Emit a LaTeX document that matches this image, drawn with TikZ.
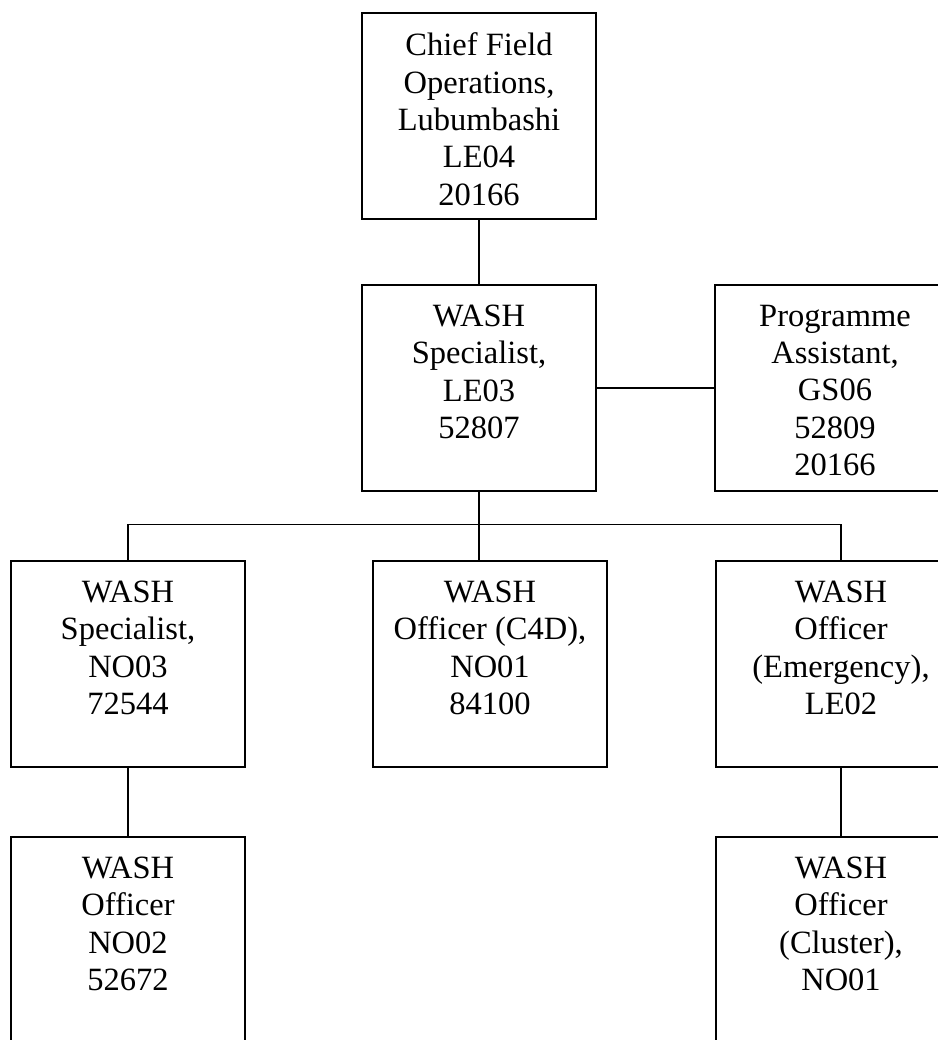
\documentclass[tikz,border=0pt]{standalone}
\usepackage{fontspec}
\setmainfont{Liberation Serif}
\usetikzlibrary{positioning}
\tikzset{post/.style={draw,line width=0.9pt,anchor=north,inner xsep=0pt,inner ysep=0.4cm,font=\fontsize{18.5}{21.3}\selectfont},
	link/.style={line width=0.9pt}}
\newcommand{\posttext}[3]{\parbox[t][#1][t]{#2}{\centering #3}}

\begin{document}
\begin{tikzpicture}[x=0.02cm,y=-0.02cm]
			\useasboundingbox (0,0) rectangle (937,1040);
			\def\h{3.32cm}
			\def\hlow{3.9cm}
			\def\w{4.68cm}
			% top of the chart
			\node[post] (chief) at (479,12) {\posttext{\h}{\w}{Chief Field\\Operations,\\Lubumbashi\\LE04\\20166}};
			\node[post] (spec) at (479,284) {\posttext{\h}{\w}{WASH\\Specialist,\\LE03\\52807}};
			\node[post] (prog) at (835,284) {\posttext{\h}{4.8cm}{Programme\\Assistant,\\GS06\\52809\\20166}};
			% third row
			\node[post] (specno) at (128,560) {\posttext{\h}{\w}{WASH\\Specialist,\\NO03\\72544}};
			\node[post] (cfourd) at (490,560) {\posttext{\h}{\w}{WASH\\Officer (C4D),\\NO01\\84100}};
			\node[post] (emerg) at (841,560) {\posttext{\h}{5cm}{WASH\\Officer\\(Emergency),\\LE02}};
			% bottom row
			\node[post] (offno) at (128,836) {\posttext{\hlow}{\w}{WASH\\Officer\\NO02\\52672}};
			\node[post] (cluster) at (841,836) {\posttext{\hlow}{5cm}{WASH\\Officer\\(Cluster),\\NO01}};
			\coordinate[below=0.66cm of spec] (bus);
			\draw[link] (chief) -- (spec);
			\draw[link] (spec) -- (prog);
			\draw[link] (spec) -- (bus);
			\draw[link] (specno) |- (bus) -| (emerg);
			\draw[link] (bus) -- (bus |- cfourd.north);
			\draw[link] (specno) -- (offno);
			\draw[link] (emerg) -- (cluster);
		\end{tikzpicture}
\end{document}
